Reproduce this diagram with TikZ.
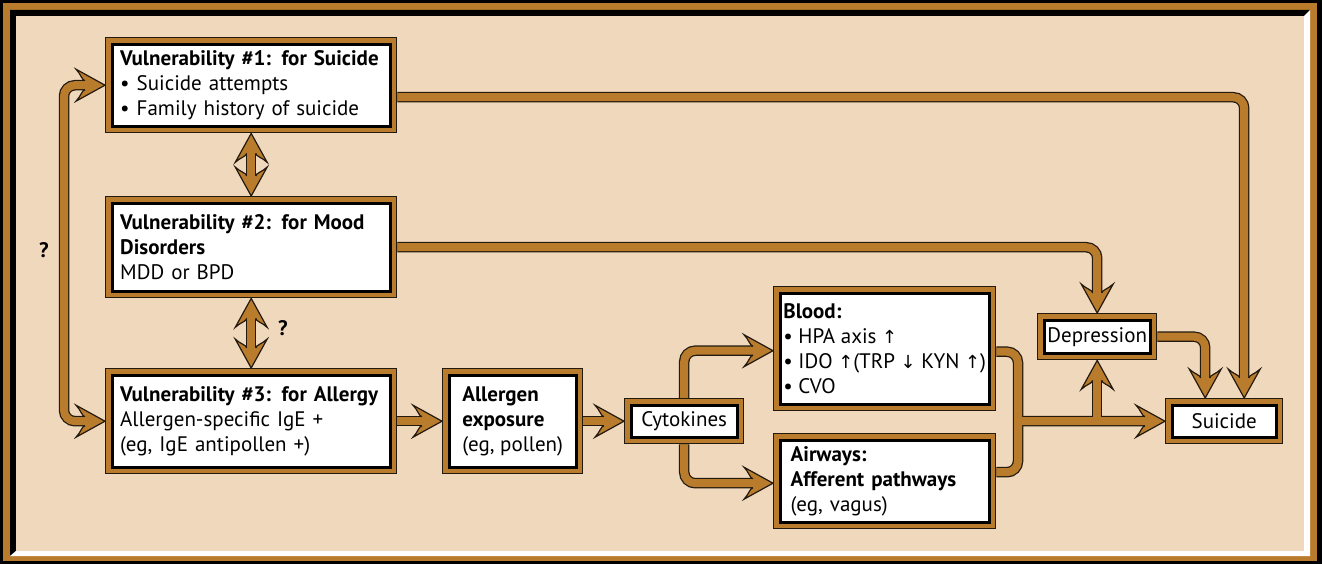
\documentclass[tikz,border=0pt]{standalone}
\usepackage{fontspec}
\setmainfont{PT Sans}
\newfontfamily\arr{DejaVu Sans}
\usetikzlibrary{calc}
\definecolor{brn}{HTML}{B97C2C}
\definecolor{dk}{HTML}{231A0F}
\definecolor{bg}{HTML}{F0D8BD}
\pgfdeclarelayer{background}
\pgfdeclarelayer{lineback}
\pgfdeclarelayer{linefront}
\pgfdeclarelayer{heads}
\pgfsetlayers{background,lineback,linefront,heads,main}
\tikzset{
  box/.style={draw=black, line width=3pt, fill=white,
    preaction={draw=dk, line width=14.4pt},
    preaction={draw=brn, line width=12.4pt},
    outer sep=7.2pt, inner sep=0pt, align=left, anchor=north west,
    font=\fontsize{21}{25}\selectfont},
  cback/.style={draw=dk, line width=10.5pt, rounded corners=11pt},
  cfront/.style={draw=brn, line width=8pt, rounded corners=11pt},
  qmark/.style={font=\bfseries\fontsize{21}{25}\selectfont}
}
\newcommand\conn[2][]{%
  \begin{pgfonlayer}{lineback}\draw[cback,#1] #2;\end{pgfonlayer}%
  \begin{pgfonlayer}{linefront}\draw[cfront,#1] #2;\end{pgfonlayer}}
\newcommand\ahead[2]{%
  \begin{pgfonlayer}{heads}
  \fill[brn, shift={#1}, rotate=#2] (0,0) -- (-29,16) .. controls (-24,11) and (-23,4.6) .. (-20,4.6)
     -- (-20,-4.6) .. controls (-23,-4.6) and (-24,-11) .. (-29,-16) -- cycle;
  \draw[dk, line width=1.2pt, line join=miter, shift={#1}, rotate=#2] (-20,4.6) .. controls (-23,4.6) and (-24,11) .. (-29,16)
     -- (0,0) -- (-29,-16) .. controls (-24,-11) and (-23,-4.6) .. (-20,-4.6);
  \end{pgfonlayer}}
\newcommand\up{{\arr\fontsize{18}{25}\selectfont ↑}}
\newcommand\dn{{\arr\fontsize{18}{25}\selectfont ↓}}
\begin{document}
\begin{tikzpicture}[x=1pt, y=-1pt]
\useasboundingbox (0,0) rectangle (1322,564);
\begin{pgfonlayer}{background}
  \fill[black] (0,0) rectangle (1322,564);
  \fill[brn] (3,3) rectangle (1317,561);
  \fill[black] (10,10) -- (1310,10) -- (1304,16) -- (16,16) -- (16,551) -- (10,556) -- cycle;
  \fill[white] (1310,10) -- (1310,556) -- (10,556) -- (16,551) -- (1304,551) -- (1304,16) -- cycle;
  \fill[bg] (16,16) rectangle (1304,551);
\end{pgfonlayer}

\node[box, minimum width=278, minimum height=82, text width=262] (v1) at (105,37)
  {\textbf{Vulnerability \#1: for Suicide}\\\textbullet\ Suicide attempts\\\textbullet\ Family history of suicide};
\node[box, minimum width=278, minimum height=88, text width=262] (v2) at (105,196)
  {\textbf{Vulnerability \#2: for Mood}\\\textbf{Disorders}\\MDD or BPD};
\node[box, minimum width=278, minimum height=92, text width=262] (v3) at (105,368)
  {\textbf{Vulnerability \#3: for Allergy}\\Allergen-specific IgE +\\(eg, IgE antipollen +)};
\node[box, minimum width=127, minimum height=92] (al) at (442,368)
  {\textbf{Allergen}\\\textbf{exposure}\\(eg, pollen)};
\node[box, minimum width=106, minimum height=32, align=center] (cy) at (624,398) {Cytokines};
\node[box, minimum width=209, minimum height=111] (bl) at (773,286)
  {\textbf{Blood:}\\\textbullet\ HPA axis \up\\\textbullet\ IDO \up(TRP \dn\ KYN \up)\\\textbullet\ CVO};
\node[box, minimum width=209, minimum height=82, text width=188] (aw) at (773,433)
  {\textbf{Airways:}\\\textbf{Afferent pathways}\\(eg, vagus)};
\node[box, minimum width=106, minimum height=33, align=center] (dep) at (1037,313) {Depression};
\node[box, minimum width=104, minimum height=32, align=center] (su) at (1165,398) {Suicide};
\node[qmark] (q1) at (44,250) {?};
\node[qmark] (q2) at (283,328) {?};
\coordinate (j) at (1018,421);

\conn[shorten >=19pt]{($(v1.east)+(0,12)$) -| ($(su.north)+(20,0)$)}
\ahead{($(su.north)+(20,0)$)}{-90}
\conn[shorten >=19pt]{(v2.east) -| (dep.north)}
\ahead{(dep.north)}{-90}
\conn[shorten >=19pt]{(dep.east) -| ($(su.north)+(-19,0)$)}
\ahead{($(su.north)+(-19,0)$)}{-90}
\conn[shorten <=19pt, shorten >=19pt]{(v1.south) -- (v2.north)}
\ahead{(v1.south)}{90}
\ahead{(v2.north)}{-90}
\conn[shorten <=19pt, shorten >=19pt]{(v2.south) -- (v3.north)}
\ahead{(v2.south)}{90}
\ahead{(v3.north)}{-90}
\conn[shorten <=19pt, shorten >=19pt]{(v3.west) -- ++(-41,0) |- (v1.west)}
\ahead{(v3.west)}{0}
\ahead{(v1.west)}{0}
\conn[shorten >=19pt]{(v3.east) -- (al.west)}
\ahead{(al.west)}{0}
\conn[shorten >=19pt]{(al.east) -- (cy.west)}
\ahead{(cy.west)}{0}
\conn[shorten >=19pt]{(cy.north) |- ($(bl.west)+(0,2)$)}
\ahead{($(bl.west)+(0,2)$)}{0}
\conn[shorten >=19pt]{(cy.south) |- ($(aw.west)+(0,2)$)}
\ahead{($(aw.west)+(0,2)$)}{0}
\conn{($(bl.east)+(0,3)$) -| (j)}
\conn{($(aw.east)+(0,-9)$) -| (j)}
\conn[shorten >=19pt]{(j) -- (su.west)}
\ahead{(su.west)}{0}
\conn[shorten >=19pt]{(j -| dep.south) -- (dep.south)}
\ahead{(dep.south)}{90}
\end{tikzpicture}
\end{document}
